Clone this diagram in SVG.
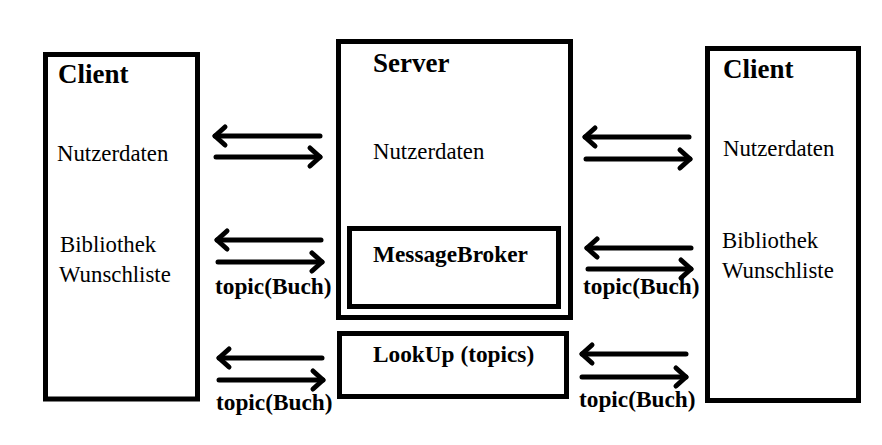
<svg xmlns="http://www.w3.org/2000/svg" width="882" height="445" viewBox="0 0 882 445">
<style>
.box{fill:none;stroke:#000;stroke-width:5}
.title{font-family:"Liberation Serif","Times New Roman",serif;font-weight:bold;font-size:27px;fill:#000}
.body{font-family:"Liberation Serif","Times New Roman",serif;font-size:22.8px;fill:#000}
.lbl{font-family:"Liberation Serif","Times New Roman",serif;font-weight:bold;font-size:23.3px;fill:#000}
.arr{stroke:#000;stroke-width:5;stroke-linecap:round;fill:none;marker-end:url(#head)}
</style>
<defs>
<marker id="head" viewBox="-16 -14 20 28" refX="0" refY="0" markerWidth="20" markerHeight="28" markerUnits="userSpaceOnUse" orient="auto">
<path d="M-10,-9 L0,0 L-10,9" fill="none" stroke="#000" stroke-width="5" stroke-linecap="round" stroke-linejoin="round"/>
</marker>
</defs>
<rect width="882" height="445" fill="#fff"/>
<g id="client-left">
<rect class="box" x="45.5" y="54.5" width="152" height="344.5"/>
<text class="title" x="58" y="83">Client</text>
<text class="body" x="57" y="161">Nutzerdaten</text>
<text class="body" x="60" y="252">Bibliothek</text>
<text class="body" x="59" y="282">Wunschliste</text>
</g>
<g id="server">
<rect class="box" x="338.5" y="41.5" width="232" height="276"/>
<text class="title" x="373" y="72">Server</text>
<text class="body" x="373" y="159">Nutzerdaten</text>
</g>
<g id="messagebroker">
<rect class="box" x="349.5" y="228.5" width="209" height="78"/>
<text class="lbl" x="373" y="262">MessageBroker</text>
</g>
<g id="lookup">
<rect class="box" x="339.5" y="333.5" width="227" height="63"/>
<text class="lbl" x="373" y="362">LookUp (topics)</text>
</g>
<g id="client-right">
<rect class="box" x="707.5" y="48.5" width="151" height="352"/>
<text class="title" x="723" y="78">Client</text>
<text class="body" x="723" y="156">Nutzerdaten</text>
<text class="body" x="722" y="248">Bibliothek</text>
<text class="body" x="722" y="278">Wunschliste</text>
</g>
<g id="connectors">
<line class="arr" x1="320" y1="136" x2="215" y2="136"/>
<line class="arr" x1="216" y1="157" x2="320" y2="157"/>
<line class="arr" x1="321" y1="240" x2="217" y2="240"/>
<line class="arr" x1="218" y1="262" x2="322" y2="262"/>
<line class="arr" x1="322" y1="358" x2="219" y2="358"/>
<line class="arr" x1="219" y1="380" x2="323" y2="380"/>
<line class="arr" x1="689" y1="137" x2="585" y2="137"/>
<line class="arr" x1="586" y1="159" x2="690" y2="159"/>
<line class="arr" x1="691" y1="248" x2="587" y2="248"/>
<line class="arr" x1="588" y1="269" x2="691" y2="269"/>
<line class="arr" x1="686" y1="354" x2="582" y2="354"/>
<line class="arr" x1="582" y1="377" x2="686" y2="377"/>
<text class="lbl" x="215" y="294">topic(Buch)</text>
<text class="lbl" x="216" y="410">topic(Buch)</text>
<text class="lbl" x="583" y="294">topic(Buch)</text>
<text class="lbl" x="579" y="407">topic(Buch)</text>
</g>
</svg>
